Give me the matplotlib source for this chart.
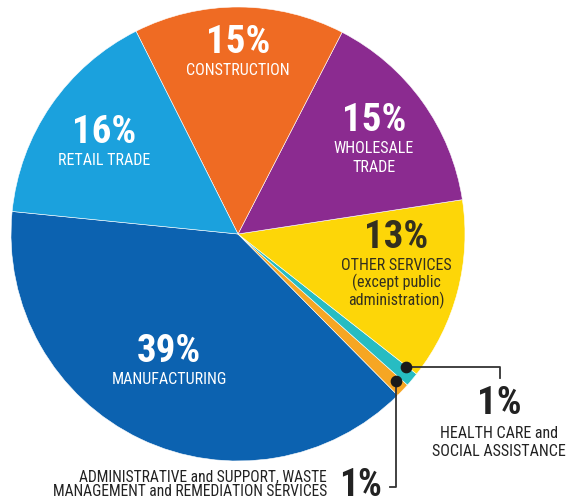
import matplotlib.pyplot as plt
from matplotlib import font_manager as fm

# shares of businesses by industry (percent)
industries = ['MANUFACTURING', 'ADMINISTRATIVE', 'HEALTH CARE', 'OTHER SERVICES',
              'WHOLESALE TRADE', 'CONSTRUCTION', 'RETAIL TRADE']
shares = [39, 1, 1, 13, 15, 15, 16]
colors = ['#0c62b0', '#f6a623', '#27bcc2', '#fdd608', '#8b2b90', '#ef6b23', '#1ba1dd']


def weight_of(f):
    w = f.weight
    if isinstance(w, str):
        w = fm.weight_dict.get(w, 400)
    return int(w)


def pick_fonts():
    """first condensed family that has both a regular and a bold file"""
    prefs = ['Roboto Condensed', 'Barlow Condensed', 'Archivo Narrow', 'PT Sans Narrow',
             'Encode Sans Condensed', 'Saira Condensed', 'DejaVu Sans']
    for name in prefs:
        fonts = [f for f in fm.fontManager.ttflist if f.name == name and f.style == 'normal']
        if name == 'DejaVu Sans':
            fonts = [f for f in fonts if f.stretch != 'normal']
        reg = [f for f in fonts if weight_of(f) == 400]
        bold = [f for f in fonts if weight_of(f) == 700]
        if reg and bold:
            return fm.FontProperties(fname=reg[0].fname), fm.FontProperties(fname=bold[0].fname)
    return (fm.FontProperties(family='DejaVu Sans'),
            fm.FontProperties(family='DejaVu Sans', weight='bold'))


REG, BOLD = pick_fonts()

W, H = 566, 503
CX, CY, R = 238, H - 234, 227

fig = plt.figure(figsize=(W / 100, H / 100), dpi=100)
ax = fig.add_axes([0, 0, 1, 1])
ax.axis('off')

ax.pie(shares, colors=colors, startangle=174.3, counterclock=True,
       center=(CX, CY), radius=R,
       wedgeprops=dict(edgecolor='#ffffff', linewidth=0.4))
ax.set_xlim(0, W)
ax.set_ylim(0, H)
ax.set_aspect('equal')


def txt(x, y, s, size, bold=False, color='#222222', ha='center'):
    fp = (BOLD if bold else REG).copy()
    fp.set_size(size)
    ax.text(x, H - y, s, ha=ha, va='center', color=color, fontproperties=fp)


def label(x, y, pct, lines, color, pct_size=28, size=11.5, gap=28, step=17.5):
    txt(x, y, pct, pct_size, bold=True, color=color)
    for i, ln in enumerate(lines):
        txt(x, y + gap + i * step, ln, size, color=color)


label(238, 42, '15%', ['CONSTRUCTION'], 'white')
label(104, 132, '16%', ['RETAIL TRADE'], 'white')
label(374, 120, '15%', ['WHOLESALE', 'TRADE'], 'white', step=19)
label(396, 237, '13%', ['OTHER SERVICES', '(except public', 'administration)'],
      '#33301f', step=17.5)
label(169, 352, '39%', ['MANUFACTURING'], 'white', gap=27)
label(499, 404, '1%', ['HEALTH CARE and', 'SOCIAL ASSISTANCE'], '#222222',
      gap=29, step=18)

# admin label, right aligned next to its percent
txt(327, 477, 'ADMINISTRATIVE and SUPPORT, WASTE', 11.2, ha='right')
txt(327, 492, 'MANAGEMENT and REMEDIATION SERVICES', 11.2, ha='right')
txt(360, 485, '1%', 27, bold=True)

# leader lines with dots
ax.plot([406, 500, 500], [H - 367, H - 367, H - 378], color='#333333', lw=1.3)
ax.plot([396, 396, 390], [H - 381, H - 487, H - 487], color='#333333', lw=1.3)
ax.scatter([406, 396], [H - 367, H - 381], s=55, color='#1a1a1a', zorder=5)

fig.savefig('out.png', dpi=100)
